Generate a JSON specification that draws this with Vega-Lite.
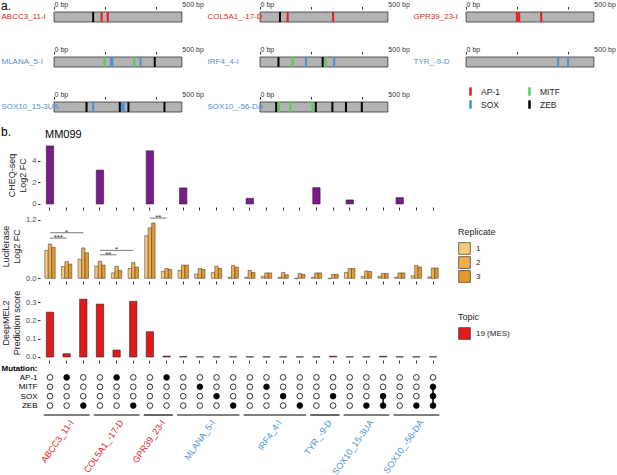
{
  "$schema": "https://vega.github.io/schema/vega-lite/v6.json",
  "padding": {"left": 1, "top": 0, "right": 0, "bottom": 0},
  "columns": 1,
  "align": "none",
  "spacing": 13,
  "resolve": {"scale": {"color": "independent", "fill": "independent"}, "legend": {"color": "independent", "fill": "independent"}},
  "datasets": {
    "bp": [{"p": 0, "lab": "0 bp"}, {"p": 500, "lab": "500 bp"}],
    "motifs": [
      {"name": "ABCC3_11-I", "pos": 153, "motif": "ZEB"},
      {"name": "ABCC3_11-I", "pos": 186, "motif": "AP-1"},
      {"name": "ABCC3_11-I", "pos": 210, "motif": "AP-1"},
      {"name": "COL5A1_-17-D", "pos": 78, "motif": "ZEB"},
      {"name": "COL5A1_-17-D", "pos": 108, "motif": "AP-1"},
      {"name": "COL5A1_-17-D", "pos": 286, "motif": "AP-1"},
      {"name": "GPR39_23-I", "pos": 199, "motif": "AP-1"},
      {"name": "GPR39_23-I", "pos": 208, "motif": "AP-1"},
      {"name": "GPR39_23-I", "pos": 294, "motif": "AP-1"},
      {"name": "MLANA_5-I", "pos": 197, "motif": "MITF"},
      {"name": "MLANA_5-I", "pos": 223, "motif": "SOX"},
      {"name": "MLANA_5-I", "pos": 228, "motif": "SOX"},
      {"name": "MLANA_5-I", "pos": 314, "motif": "MITF"},
      {"name": "MLANA_5-I", "pos": 338, "motif": "SOX"},
      {"name": "MLANA_5-I", "pos": 394, "motif": "ZEB"},
      {"name": "IRF4_4-I", "pos": 72, "motif": "ZEB"},
      {"name": "IRF4_4-I", "pos": 128, "motif": "MITF"},
      {"name": "IRF4_4-I", "pos": 180, "motif": "SOX"},
      {"name": "IRF4_4-I", "pos": 245, "motif": "ZEB"},
      {"name": "IRF4_4-I", "pos": 257, "motif": "MITF"},
      {"name": "IRF4_4-I", "pos": 290, "motif": "SOX"},
      {"name": "TYR_-9-D", "pos": 360, "motif": "SOX"},
      {"name": "TYR_-9-D", "pos": 399, "motif": "SOX"},
      {"name": "SOX10_15-3UA", "pos": 127, "motif": "ZEB"},
      {"name": "SOX10_15-3UA", "pos": 153, "motif": "SOX"},
      {"name": "SOX10_15-3UA", "pos": 257, "motif": "ZEB"},
      {"name": "SOX10_15-3UA", "pos": 266, "motif": "SOX"},
      {"name": "SOX10_15-3UA", "pos": 272, "motif": "SOX"},
      {"name": "SOX10_15-3UA", "pos": 291, "motif": "ZEB"},
      {"name": "SOX10_15-3UA", "pos": 432, "motif": "ZEB"},
      {"name": "SOX10_-56-DA", "pos": 63, "motif": "ZEB"},
      {"name": "SOX10_-56-DA", "pos": 74, "motif": "MITF"},
      {"name": "SOX10_-56-DA", "pos": 119, "motif": "MITF"},
      {"name": "SOX10_-56-DA", "pos": 205, "motif": "MITF"},
      {"name": "SOX10_-56-DA", "pos": 218, "motif": "ZEB"},
      {"name": "SOX10_-56-DA", "pos": 283, "motif": "ZEB"},
      {"name": "SOX10_-56-DA", "pos": 336, "motif": "ZEB"},
      {"name": "SOX10_-56-DA", "pos": 398, "motif": "ZEB"}
    ],
    "cheq": [
      {"col": "c01", "v": 5.35}, {"col": "c04", "v": 3.12}, {"col": "c07", "v": 4.9},
      {"col": "c09", "v": 1.48}, {"col": "c13", "v": 0.52}, {"col": "c17", "v": 1.5},
      {"col": "c19", "v": 0.37}, {"col": "c22", "v": 0.58}
    ],
    "luc": [
      {"col": "c01", "rep": "1", "v": 0.57}, {"col": "c01", "rep": "2", "v": 0.70}, {"col": "c01", "rep": "3", "v": 0.63},
      {"col": "c02", "rep": "1", "v": 0.24}, {"col": "c02", "rep": "2", "v": 0.34}, {"col": "c02", "rep": "3", "v": 0.29},
      {"col": "c03", "rep": "1", "v": 0.39}, {"col": "c03", "rep": "2", "v": 0.62}, {"col": "c03", "rep": "3", "v": 0.52},
      {"col": "c04", "rep": "1", "v": 0.25}, {"col": "c04", "rep": "2", "v": 0.35}, {"col": "c04", "rep": "3", "v": 0.27},
      {"col": "c05", "rep": "1", "v": 0.11}, {"col": "c05", "rep": "2", "v": 0.245}, {"col": "c05", "rep": "3", "v": 0.16},
      {"col": "c06", "rep": "1", "v": 0.20}, {"col": "c06", "rep": "2", "v": 0.32}, {"col": "c06", "rep": "3", "v": 0.23},
      {"col": "c07", "rep": "1", "v": 0.87}, {"col": "c07", "rep": "2", "v": 1.03}, {"col": "c07", "rep": "3", "v": 1.13},
      {"col": "c08", "rep": "1", "v": 0.14}, {"col": "c08", "rep": "2", "v": 0.20}, {"col": "c08", "rep": "3", "v": 0.18},
      {"col": "c09", "rep": "1", "v": 0.16}, {"col": "c09", "rep": "2", "v": 0.27}, {"col": "c09", "rep": "3", "v": 0.27},
      {"col": "c10", "rep": "1", "v": 0.09}, {"col": "c10", "rep": "2", "v": 0.20}, {"col": "c10", "rep": "3", "v": 0.18},
      {"col": "c11", "rep": "1", "v": 0.12}, {"col": "c11", "rep": "2", "v": 0.245}, {"col": "c11", "rep": "3", "v": 0.20},
      {"col": "c12", "rep": "1", "v": 0.02}, {"col": "c12", "rep": "2", "v": 0.26}, {"col": "c12", "rep": "3", "v": 0.23},
      {"col": "c13", "rep": "1", "v": 0.02}, {"col": "c13", "rep": "2", "v": 0.16}, {"col": "c13", "rep": "3", "v": 0.12},
      {"col": "c14", "rep": "1", "v": 0.04}, {"col": "c14", "rep": "2", "v": 0.11}, {"col": "c14", "rep": "3", "v": 0.11},
      {"col": "c15", "rep": "1", "v": 0.02}, {"col": "c15", "rep": "2", "v": 0.12}, {"col": "c15", "rep": "3", "v": 0.07},
      {"col": "c16", "rep": "1", "v": -0.01}, {"col": "c16", "rep": "2", "v": 0.10}, {"col": "c16", "rep": "3", "v": 0.08},
      {"col": "c17", "rep": "1", "v": 0.02}, {"col": "c17", "rep": "2", "v": 0.11}, {"col": "c17", "rep": "3", "v": 0.11},
      {"col": "c18", "rep": "1", "v": -0.01}, {"col": "c18", "rep": "2", "v": 0.08}, {"col": "c18", "rep": "3", "v": 0.08},
      {"col": "c19", "rep": "1", "v": 0.12}, {"col": "c19", "rep": "2", "v": 0.20}, {"col": "c19", "rep": "3", "v": 0.20},
      {"col": "c20", "rep": "1", "v": 0.04}, {"col": "c20", "rep": "2", "v": 0.15}, {"col": "c20", "rep": "3", "v": 0.14},
      {"col": "c21", "rep": "1", "v": 0.04}, {"col": "c21", "rep": "2", "v": 0.10}, {"col": "c21", "rep": "3", "v": 0.10},
      {"col": "c22", "rep": "1", "v": 0.02}, {"col": "c22", "rep": "2", "v": 0.11}, {"col": "c22", "rep": "3", "v": 0.11},
      {"col": "c23", "rep": "1", "v": 0.05}, {"col": "c23", "rep": "2", "v": 0.26}, {"col": "c23", "rep": "3", "v": 0.23},
      {"col": "c24", "rep": "1", "v": 0.03}, {"col": "c24", "rep": "2", "v": 0.21}, {"col": "c24", "rep": "3", "v": 0.21}
    ],
    "sig": [
      {"s": "c01", "e": "c03", "mid": "c02", "half": false, "y": 0.93, "lab": "*"},
      {"s": "c01", "e": "c02", "mid": "c01", "half": true, "y": 0.82, "lab": "***"},
      {"s": "c04", "e": "c06", "mid": "c05", "half": false, "y": 0.57, "lab": "*"},
      {"s": "c04", "e": "c05", "mid": "c04", "half": true, "y": 0.48, "lab": "**"},
      {"s": "c07", "e": "c08", "mid": "c07", "half": true, "y": 1.23, "lab": "**"}
    ],
    "deep": [
      {"col": "c01", "v": 0.245, "topic": "19 (MES)"}, {"col": "c02", "v": 0.018, "topic": "19 (MES)"},
      {"col": "c03", "v": 0.316, "topic": "19 (MES)"}, {"col": "c04", "v": 0.289, "topic": "19 (MES)"},
      {"col": "c05", "v": 0.038, "topic": "19 (MES)"}, {"col": "c06", "v": 0.304, "topic": "19 (MES)"},
      {"col": "c07", "v": 0.138, "topic": "19 (MES)"}, {"col": "c08", "v": 0.005, "topic": "19 (MES)"},
      {"col": "c09", "v": 0.002, "topic": "19 (MES)"}, {"col": "c10", "v": 0.001, "topic": "19 (MES)"},
      {"col": "c11", "v": 0.001, "topic": "19 (MES)"}, {"col": "c12", "v": 0.001, "topic": "19 (MES)"},
      {"col": "c13", "v": 0.001, "topic": "19 (MES)"}, {"col": "c14", "v": 0.001, "topic": "19 (MES)"},
      {"col": "c15", "v": 0.001, "topic": "19 (MES)"}, {"col": "c16", "v": 0.001, "topic": "19 (MES)"},
      {"col": "c17", "v": 0.001, "topic": "19 (MES)"}, {"col": "c18", "v": 0.004, "topic": "19 (MES)"},
      {"col": "c19", "v": 0.001, "topic": "19 (MES)"}, {"col": "c20", "v": 0.001, "topic": "19 (MES)"},
      {"col": "c21", "v": 0.004, "topic": "19 (MES)"}, {"col": "c22", "v": 0.001, "topic": "19 (MES)"},
      {"col": "c23", "v": 0.001, "topic": "19 (MES)"}, {"col": "c24", "v": 0.001, "topic": "19 (MES)"}
    ],
    "mut": [
      {"col": "c01", "AP-1": 0, "MITF": 0, "SOX": 0, "ZEB": 0},
      {"col": "c02", "AP-1": 1, "MITF": 0, "SOX": 0, "ZEB": 0},
      {"col": "c03", "AP-1": 0, "MITF": 0, "SOX": 0, "ZEB": 1},
      {"col": "c04", "AP-1": 0, "MITF": 0, "SOX": 0, "ZEB": 0},
      {"col": "c05", "AP-1": 1, "MITF": 0, "SOX": 0, "ZEB": 0},
      {"col": "c06", "AP-1": 0, "MITF": 0, "SOX": 0, "ZEB": 1},
      {"col": "c07", "AP-1": 0, "MITF": 0, "SOX": 0, "ZEB": 0},
      {"col": "c08", "AP-1": 1, "MITF": 0, "SOX": 0, "ZEB": 0},
      {"col": "c09", "AP-1": 0, "MITF": 0, "SOX": 0, "ZEB": 0},
      {"col": "c10", "AP-1": 0, "MITF": 1, "SOX": 0, "ZEB": 0},
      {"col": "c11", "AP-1": 0, "MITF": 0, "SOX": 1, "ZEB": 0},
      {"col": "c12", "AP-1": 0, "MITF": 0, "SOX": 0, "ZEB": 1},
      {"col": "c13", "AP-1": 0, "MITF": 0, "SOX": 0, "ZEB": 0},
      {"col": "c14", "AP-1": 0, "MITF": 1, "SOX": 0, "ZEB": 0},
      {"col": "c15", "AP-1": 0, "MITF": 0, "SOX": 1, "ZEB": 0},
      {"col": "c16", "AP-1": 0, "MITF": 0, "SOX": 0, "ZEB": 1},
      {"col": "c17", "AP-1": 0, "MITF": 0, "SOX": 0, "ZEB": 0},
      {"col": "c18", "AP-1": 0, "MITF": 0, "SOX": 1, "ZEB": 0},
      {"col": "c19", "AP-1": 0, "MITF": 0, "SOX": 0, "ZEB": 0},
      {"col": "c20", "AP-1": 0, "MITF": 0, "SOX": 0, "ZEB": 1},
      {"col": "c21", "AP-1": 0, "MITF": 0, "SOX": 1, "ZEB": 1},
      {"col": "c22", "AP-1": 0, "MITF": 0, "SOX": 0, "ZEB": 0},
      {"col": "c23", "AP-1": 0, "MITF": 0, "SOX": 0, "ZEB": 1},
      {"col": "c24", "AP-1": 0, "MITF": 1, "SOX": 1, "ZEB": 1}
    ],
    "links": [
      {"col": "c21", "a": "SOX", "b": "ZEB"},
      {"col": "c24", "a": "MITF", "b": "ZEB"}
    ],
    "groups": [
      {"grp": "ABCC3_11-I", "s": "c01", "e": "c03", "mid": "c02", "half": false, "cls": "red"},
      {"grp": "COL5A1_-17-D", "s": "c04", "e": "c06", "mid": "c05", "half": false, "cls": "red"},
      {"grp": "GPR39_23-I", "s": "c07", "e": "c08", "mid": "c07", "half": true, "cls": "red"},
      {"grp": "MLANA_5-I", "s": "c09", "e": "c12", "mid": "c10", "half": true, "cls": "blue"},
      {"grp": "IRF4_4-I", "s": "c13", "e": "c16", "mid": "c14", "half": true, "cls": "blue"},
      {"grp": "TYR_-9-D", "s": "c17", "e": "c18", "mid": "c17", "half": true, "cls": "blue"},
      {"grp": "SOX10_15-3UA", "s": "c19", "e": "c21", "mid": "c20", "half": false, "cls": "blue"},
      {"grp": "SOX10_-56-DA", "s": "c22", "e": "c24", "mid": "c23", "half": false, "cls": "blue"}
    ]
  },
  "concat": [
    {
      "data": {"name": "motifs"},
      "title": {"text": "a.", "anchor": "start", "frame": "bounds", "offset": -12, "fontSize": 12},
      "columns": 3,
      "bounds": "flush",
      "spacing": {"column": 64, "row": 35},
      "concat": [
        {"width": 142, "height": 10, "layer": [
          {"transform": [{"filter": "datum.name == 'ABCC3_11-I'"}, {"aggregate": [{"op": "count", "as": "n"}], "groupby": ["name"]}], "mark": {"type": "rect", "fill": "#b3b3b3", "stroke": "#333", "strokeWidth": 0.8},
           "encoding": {"x": {"datum": 0, "type": "quantitative", "scale": {"domain": [-55, 500.5], "nice": false, "zero": false}, "axis": {"orient": "top", "values": [0, 100, 200, 300, 400, 500], "labels": false, "tickSize": 2.5, "offset": 3, "title": null}}, "x2": {"datum": 500},
             "y": {"field": "name", "type": "nominal", "scale": {"paddingInner": 0, "paddingOuter": 0}, "axis": {"title": null, "ticks": false, "tickSize": 0, "labelAlign": "left", "labelPadding": 39, "labelFontSize": 8, "labelColor": "#e2232a"}}}},
          {"transform": [{"filter": "datum.name == 'ABCC3_11-I'"}], "mark": {"type": "tick", "thickness": 2, "size": 10, "opacity": 1}, "encoding": {"x": {"field": "pos", "type": "quantitative"}, "y": {"field": "name", "type": "nominal"}, "color": {"field": "motif", "type": "nominal"}}},
          {"data": {"name": "bp"}, "mark": {"type": "text", "align": "left", "baseline": "bottom", "dy": -9, "dx": 0.5, "fontSize": 7, "color": "#333"}, "encoding": {"x": {"field": "p", "type": "quantitative"}, "text": {"field": "lab"}}}
        ]},
        {"width": 142, "height": 10, "layer": [
          {"transform": [{"filter": "datum.name == 'COL5A1_-17-D'"}, {"aggregate": [{"op": "count", "as": "n"}], "groupby": ["name"]}], "mark": {"type": "rect", "fill": "#b3b3b3", "stroke": "#333", "strokeWidth": 0.8},
           "encoding": {"x": {"datum": 0, "type": "quantitative", "scale": {"domain": [-55, 500.5], "nice": false, "zero": false}, "axis": {"orient": "top", "values": [0, 100, 200, 300, 400, 500], "labels": false, "tickSize": 2.5, "offset": 3, "title": null}}, "x2": {"datum": 500},
             "y": {"field": "name", "type": "nominal", "scale": {"paddingInner": 0, "paddingOuter": 0}, "axis": {"title": null, "ticks": false, "tickSize": 0, "labelAlign": "left", "labelPadding": 39, "labelFontSize": 8, "labelColor": "#e2232a"}}}},
          {"transform": [{"filter": "datum.name == 'COL5A1_-17-D'"}], "mark": {"type": "tick", "thickness": 2, "size": 10, "opacity": 1}, "encoding": {"x": {"field": "pos", "type": "quantitative"}, "y": {"field": "name", "type": "nominal"}, "color": {"field": "motif", "type": "nominal"}}},
          {"data": {"name": "bp"}, "mark": {"type": "text", "align": "left", "baseline": "bottom", "dy": -9, "dx": 0.5, "fontSize": 7, "color": "#333"}, "encoding": {"x": {"field": "p", "type": "quantitative"}, "text": {"field": "lab"}}}
        ]},
        {"width": 142, "height": 10, "layer": [
          {"transform": [{"filter": "datum.name == 'GPR39_23-I'"}, {"aggregate": [{"op": "count", "as": "n"}], "groupby": ["name"]}], "mark": {"type": "rect", "fill": "#b3b3b3", "stroke": "#333", "strokeWidth": 0.8},
           "encoding": {"x": {"datum": 0, "type": "quantitative", "scale": {"domain": [-55, 500.5], "nice": false, "zero": false}, "axis": {"orient": "top", "values": [0, 100, 200, 300, 400, 500], "labels": false, "tickSize": 2.5, "offset": 3, "title": null}}, "x2": {"datum": 500},
             "y": {"field": "name", "type": "nominal", "scale": {"paddingInner": 0, "paddingOuter": 0}, "axis": {"title": null, "ticks": false, "tickSize": 0, "labelAlign": "left", "labelPadding": 39, "labelFontSize": 8, "labelColor": "#e2232a"}}}},
          {"transform": [{"filter": "datum.name == 'GPR39_23-I'"}], "mark": {"type": "tick", "thickness": 2, "size": 10, "opacity": 1}, "encoding": {"x": {"field": "pos", "type": "quantitative"}, "y": {"field": "name", "type": "nominal"}, "color": {"field": "motif", "type": "nominal"}}},
          {"data": {"name": "bp"}, "mark": {"type": "text", "align": "left", "baseline": "bottom", "dy": -9, "dx": 0.5, "fontSize": 7, "color": "#333"}, "encoding": {"x": {"field": "p", "type": "quantitative"}, "text": {"field": "lab"}}}
        ]},
        {"width": 142, "height": 10, "layer": [
          {"transform": [{"filter": "datum.name == 'MLANA_5-I'"}, {"aggregate": [{"op": "count", "as": "n"}], "groupby": ["name"]}], "mark": {"type": "rect", "fill": "#b3b3b3", "stroke": "#333", "strokeWidth": 0.8},
           "encoding": {"x": {"datum": 0, "type": "quantitative", "scale": {"domain": [-55, 500.5], "nice": false, "zero": false}, "axis": {"orient": "top", "values": [0, 100, 200, 300, 400, 500], "labels": false, "tickSize": 2.5, "offset": 3, "title": null}}, "x2": {"datum": 500},
             "y": {"field": "name", "type": "nominal", "scale": {"paddingInner": 0, "paddingOuter": 0}, "axis": {"title": null, "ticks": false, "tickSize": 0, "labelAlign": "left", "labelPadding": 39, "labelFontSize": 8, "labelColor": "#4f93cf"}}}},
          {"transform": [{"filter": "datum.name == 'MLANA_5-I'"}], "mark": {"type": "tick", "thickness": 2, "size": 10, "opacity": 1}, "encoding": {"x": {"field": "pos", "type": "quantitative"}, "y": {"field": "name", "type": "nominal"}, "color": {"field": "motif", "type": "nominal"}}},
          {"data": {"name": "bp"}, "mark": {"type": "text", "align": "left", "baseline": "bottom", "dy": -9, "dx": 0.5, "fontSize": 7, "color": "#333"}, "encoding": {"x": {"field": "p", "type": "quantitative"}, "text": {"field": "lab"}}}
        ]},
        {"width": 142, "height": 10, "layer": [
          {"transform": [{"filter": "datum.name == 'IRF4_4-I'"}, {"aggregate": [{"op": "count", "as": "n"}], "groupby": ["name"]}], "mark": {"type": "rect", "fill": "#b3b3b3", "stroke": "#333", "strokeWidth": 0.8},
           "encoding": {"x": {"datum": 0, "type": "quantitative", "scale": {"domain": [-55, 500.5], "nice": false, "zero": false}, "axis": {"orient": "top", "values": [0, 100, 200, 300, 400, 500], "labels": false, "tickSize": 2.5, "offset": 3, "title": null}}, "x2": {"datum": 500},
             "y": {"field": "name", "type": "nominal", "scale": {"paddingInner": 0, "paddingOuter": 0}, "axis": {"title": null, "ticks": false, "tickSize": 0, "labelAlign": "left", "labelPadding": 39, "labelFontSize": 8, "labelColor": "#4f93cf"}}}},
          {"transform": [{"filter": "datum.name == 'IRF4_4-I'"}], "mark": {"type": "tick", "thickness": 2, "size": 10, "opacity": 1}, "encoding": {"x": {"field": "pos", "type": "quantitative"}, "y": {"field": "name", "type": "nominal"}, "color": {"field": "motif", "type": "nominal"}}},
          {"data": {"name": "bp"}, "mark": {"type": "text", "align": "left", "baseline": "bottom", "dy": -9, "dx": 0.5, "fontSize": 7, "color": "#333"}, "encoding": {"x": {"field": "p", "type": "quantitative"}, "text": {"field": "lab"}}}
        ]},
        {"width": 142, "height": 10, "layer": [
          {"transform": [{"filter": "datum.name == 'TYR_-9-D'"}, {"aggregate": [{"op": "count", "as": "n"}], "groupby": ["name"]}], "mark": {"type": "rect", "fill": "#b3b3b3", "stroke": "#333", "strokeWidth": 0.8},
           "encoding": {"x": {"datum": 0, "type": "quantitative", "scale": {"domain": [-55, 500.5], "nice": false, "zero": false}, "axis": {"orient": "top", "values": [0, 100, 200, 300, 400, 500], "labels": false, "tickSize": 2.5, "offset": 3, "title": null}}, "x2": {"datum": 500},
             "y": {"field": "name", "type": "nominal", "scale": {"paddingInner": 0, "paddingOuter": 0}, "axis": {"title": null, "ticks": false, "tickSize": 0, "labelAlign": "left", "labelPadding": 39, "labelFontSize": 8, "labelColor": "#4f93cf"}}}},
          {"transform": [{"filter": "datum.name == 'TYR_-9-D'"}], "mark": {"type": "tick", "thickness": 2, "size": 10, "opacity": 1}, "encoding": {"x": {"field": "pos", "type": "quantitative"}, "y": {"field": "name", "type": "nominal"}, "color": {"field": "motif", "type": "nominal"}}},
          {"data": {"name": "bp"}, "mark": {"type": "text", "align": "left", "baseline": "bottom", "dy": -9, "dx": 0.5, "fontSize": 7, "color": "#333"}, "encoding": {"x": {"field": "p", "type": "quantitative"}, "text": {"field": "lab"}}}
        ]},
        {"width": 142, "height": 10, "layer": [
          {"transform": [{"filter": "datum.name == 'SOX10_15-3UA'"}, {"aggregate": [{"op": "count", "as": "n"}], "groupby": ["name"]}], "mark": {"type": "rect", "fill": "#b3b3b3", "stroke": "#333", "strokeWidth": 0.8},
           "encoding": {"x": {"datum": 0, "type": "quantitative", "scale": {"domain": [-55, 500.5], "nice": false, "zero": false}, "axis": {"orient": "top", "values": [0, 100, 200, 300, 400, 500], "labels": false, "tickSize": 2.5, "offset": 3, "title": null}}, "x2": {"datum": 500},
             "y": {"field": "name", "type": "nominal", "scale": {"paddingInner": 0, "paddingOuter": 0}, "axis": {"title": null, "ticks": false, "tickSize": 0, "labelAlign": "left", "labelPadding": 39, "labelFontSize": 8, "labelColor": "#4f93cf"}}}},
          {"transform": [{"filter": "datum.name == 'SOX10_15-3UA'"}], "mark": {"type": "tick", "thickness": 2, "size": 10, "opacity": 1}, "encoding": {"x": {"field": "pos", "type": "quantitative"}, "y": {"field": "name", "type": "nominal"}, "color": {"field": "motif", "type": "nominal"}}},
          {"data": {"name": "bp"}, "mark": {"type": "text", "align": "left", "baseline": "bottom", "dy": -9, "dx": 0.5, "fontSize": 7, "color": "#333"}, "encoding": {"x": {"field": "p", "type": "quantitative"}, "text": {"field": "lab"}}}
        ]},
        {"width": 142, "height": 10, "layer": [
          {"transform": [{"filter": "datum.name == 'SOX10_-56-DA'"}, {"aggregate": [{"op": "count", "as": "n"}], "groupby": ["name"]}], "mark": {"type": "rect", "fill": "#b3b3b3", "stroke": "#333", "strokeWidth": 0.8},
           "encoding": {"x": {"datum": 0, "type": "quantitative", "scale": {"domain": [-55, 500.5], "nice": false, "zero": false}, "axis": {"orient": "top", "values": [0, 100, 200, 300, 400, 500], "labels": false, "tickSize": 2.5, "offset": 3, "title": null}}, "x2": {"datum": 500},
             "y": {"field": "name", "type": "nominal", "scale": {"paddingInner": 0, "paddingOuter": 0}, "axis": {"title": null, "ticks": false, "tickSize": 0, "labelAlign": "left", "labelPadding": 39, "labelFontSize": 8, "labelColor": "#4f93cf"}}}},
          {"transform": [{"filter": "datum.name == 'SOX10_-56-DA'"}], "mark": {"type": "tick", "thickness": 2, "size": 10, "opacity": 1}, "encoding": {"x": {"field": "pos", "type": "quantitative"}, "y": {"field": "name", "type": "nominal"},
            "color": {"field": "motif", "type": "nominal", "scale": {"domain": ["AP-1", "SOX", "MITF", "ZEB"], "range": ["#e41a1c", "#4a8fd1", "#4fd14f", "#000000"]},
              "legend": {"title": null, "orient": "none", "legendX": 426, "legendY": 75, "columns": 2, "columnPadding": 25, "rowPadding": 4, "symbolType": "M-0.3,-1H0.3V1H-0.3Z", "symbolSize": 70, "symbolStrokeWidth": 0, "symbolOpacity": 1, "labelFontSize": 8.5, "labelColor": "#222", "labelOffset": 6}}}},
          {"data": {"name": "bp"}, "mark": {"type": "text", "align": "left", "baseline": "bottom", "dy": -9, "dx": 0.5, "fontSize": 7, "color": "#333"}, "encoding": {"x": {"field": "p", "type": "quantitative"}, "text": {"field": "lab"}}}
        ]}
      ]
    },
    {
      "title": {"text": "b.", "anchor": "start", "frame": "bounds", "offset": -10, "fontSize": 12},
      "spacing": 0,
      "resolve": {"scale": {"color": "independent", "fill": "independent"}, "legend": {"color": "independent", "fill": "independent"}},
      "vconcat": [
        {
          "data": {"name": "cheq"},
          "width": 403,
          "height": 64,
          "title": {"text": "MM099", "anchor": "start", "frame": "group", "fontSize": 11, "dx": 5, "offset": 3},
          "mark": {"type": "bar", "fill": "#7b1a8f", "stroke": "#222", "strokeWidth": 0.6, "width": {"band": 0.44}},
          "encoding": {
            "x": {"field": "col", "type": "nominal", "scale": {"domain": ["c01","c02","c03","c04","c05","c06","c07","c08","c09","c10","c11","c12","c13","c14","c15","c16","c17","c18","c19","c20","c21","c22","c23","c24"], "paddingInner": 0, "paddingOuter": 0.1}, "axis": {"labels": false, "title": null, "tickSize": 3}},
            "y": {"field": "v", "type": "quantitative", "scale": {"domain": [-0.28, 5.62], "nice": false}, "axis": {"values": [0, 2, 4], "title": ["CHEQ-seq", "Log2 FC"]}}
          }
        },
        {
          "width": 403,
          "height": 70,
          "layer": [
            {
              "data": {"name": "luc"},
              "mark": {"type": "bar", "stroke": "#333", "strokeWidth": 0.5},
              "encoding": {
                "x": {"field": "col", "type": "nominal", "scale": {"domain": ["c01","c02","c03","c04","c05","c06","c07","c08","c09","c10","c11","c12","c13","c14","c15","c16","c17","c18","c19","c20","c21","c22","c23","c24"], "paddingInner": 0, "paddingOuter": 0.1}, "axis": {"labels": false, "title": null, "tickSize": 3}},
                "xOffset": {"field": "rep", "type": "nominal", "scale": {"paddingOuter": 0.9, "paddingInner": 0}},
                "y": {"field": "v", "type": "quantitative", "scale": {"domain": [-0.055, 1.374], "nice": false}, "axis": {"values": [0, 0.3, 0.6, 0.9, 1.2], "format": ".1f", "title": ["Luciferase", "Log2 FC"]}},
                "fill": {"field": "rep", "type": "nominal", "scale": {"domain": ["1", "2", "3"], "range": ["#f7c979", "#f0ad4e", "#e39a2b"]},
                  "legend": {"title": "Replicate", "orient": "none", "legendX": 418, "legendY": 17, "symbolType": "square", "symbolSize": 137, "symbolStrokeColor": "#333", "symbolStrokeWidth": 0.7, "rowPadding": -4, "labelOffset": 5}}
              }
            },
            {
              "data": {"name": "sig"},
              "mark": {"type": "rule", "color": "#555", "strokeWidth": 0.8},
              "encoding": {
                "x": {"field": "s", "type": "nominal", "bandPosition": 0.5},
                "x2": {"field": "e", "bandPosition": 0.5},
                "y": {"field": "y", "type": "quantitative"}
              }
            },
            {
              "data": {"name": "sig"},
              "transform": [{"filter": "!datum.half"}],
              "mark": {"type": "text", "fontSize": 8, "baseline": "middle", "color": "#333"},
              "encoding": {
                "x": {"field": "mid", "type": "nominal"},
                "y": {"field": "y", "type": "quantitative"},
                "text": {"field": "lab"}
              }
            },
            {
              "data": {"name": "sig"},
              "transform": [{"filter": "datum.half"}],
              "mark": {"type": "text", "fontSize": 8, "baseline": "middle", "color": "#333"},
              "encoding": {
                "x": {"field": "mid", "type": "nominal", "bandPosition": 1},
                "y": {"field": "y", "type": "quantitative"},
                "text": {"field": "lab"}
              }
            }
          ]
        },
        {
          "data": {"name": "deep"},
          "width": 403,
          "height": 75,
          "mark": {"type": "bar", "stroke": "#222", "strokeWidth": 0.6, "width": {"band": 0.44}},
          "encoding": {
            "x": {"field": "col", "type": "nominal", "scale": {"domain": ["c01","c02","c03","c04","c05","c06","c07","c08","c09","c10","c11","c12","c13","c14","c15","c16","c17","c18","c19","c20","c21","c22","c23","c24"], "paddingInner": 0, "paddingOuter": 0.1}, "axis": {"labels": false, "title": null, "tickSize": 3}},
            "y": {"field": "v", "type": "quantitative", "scale": {"domain": [-0.0164, 0.3934], "nice": false}, "axis": {"values": [0, 0.1, 0.2, 0.3], "format": ".1f", "title": ["DeepMEL2", "Prediction score"]}},
            "fill": {"field": "topic", "type": "nominal", "scale": {"range": ["#e31a1c"]},
              "legend": {"title": "Topic", "orient": "none", "legendX": 418, "legendY": 28, "symbolType": "square", "symbolSize": 137, "symbolStrokeColor": "#333", "symbolStrokeWidth": 0.7, "labelOffset": 5}}
          }
        },
        {
          "width": 403,
          "height": 47,
          "layer": [
            {
              "data": {"name": "links"},
              "mark": {"type": "rule", "color": "#000", "strokeWidth": 1.5},
              "encoding": {
                "x": {"field": "col", "type": "nominal", "scale": {"type": "band", "domain": ["c01","c02","c03","c04","c05","c06","c07","c08","c09","c10","c11","c12","c13","c14","c15","c16","c17","c18","c19","c20","c21","c22","c23","c24"], "paddingInner": 0, "paddingOuter": 0.1}, "axis": null},
                "y": {"field": "a", "type": "nominal", "scale": {"type": "point", "padding": 0, "domain": ["Mutation:", "AP-1", "MITF", "SOX", "ZEB", "grp"]},
                  "axis": {"title": null, "ticks": false, "labelPadding": 3, "labelFontSize": 8, "labelColor": "#000", "labelExpr": "datum.value == 'grp' ? '' : datum.value", "labelFontWeight": {"condition": {"test": "datum.value == 'Mutation:'", "value": "bold"}, "value": "normal"}}},
                "y2": {"field": "b"}
              }
            },
            {
              "data": {"name": "mut"},
              "transform": [{"fold": ["AP-1", "MITF", "SOX", "ZEB"], "as": ["motif", "m"]}],
              "mark": {"type": "point", "filled": true, "stroke": "#000", "strokeWidth": 0.8, "size": 32, "opacity": 1},
              "encoding": {
                "x": {"field": "col", "type": "nominal"},
                "y": {"field": "motif", "type": "nominal"},
                "fill": {"field": "m", "type": "nominal", "scale": {"domain": [0, 1], "range": ["#ffffff", "#000000"]}, "legend": null}
              }
            },
            {
              "data": {"name": "groups"},
              "mark": {"type": "rule", "color": "#000", "strokeWidth": 1.2},
              "encoding": {
                "x": {"field": "s", "type": "nominal", "bandPosition": 0.13},
                "x2": {"field": "e", "bandPosition": 0.88},
                "y": {"datum": "grp", "type": "nominal"}
              }
            },
            {
              "data": {"name": "groups"},
              "transform": [{"filter": "!datum.half"}],
              "mark": {"type": "text", "angle": -55, "align": "right", "baseline": "middle", "fontSize": 9, "dx": -2, "dy": 7.5},
              "encoding": {
                "x": {"field": "mid", "type": "nominal"},
                "y": {"datum": "grp", "type": "nominal"},
                "text": {"field": "grp"},
                "color": {"field": "cls", "type": "nominal", "scale": {"domain": ["red", "blue"], "range": ["#e2232a", "#4f93cf"]}, "legend": null}
              }
            },
            {
              "data": {"name": "groups"},
              "transform": [{"filter": "datum.half"}],
              "mark": {"type": "text", "angle": -55, "align": "right", "baseline": "middle", "fontSize": 9, "dx": -2, "dy": 7.5},
              "encoding": {
                "x": {"field": "mid", "type": "nominal", "bandPosition": 1},
                "y": {"datum": "grp", "type": "nominal"},
                "text": {"field": "grp"},
                "color": {"field": "cls", "type": "nominal", "legend": null}
              }
            }
          ]
        }
      ]
    }
  ],
  "config": {
    "font": "Liberation Sans",
    "view": {"stroke": null},
    "axis": {"grid": false, "domain": false, "tickColor": "#333", "tickSize": 2.5, "labelColor": "#4d4d4d", "labelFontSize": 7.5, "labelPadding": 1.5, "titleFontSize": 9, "titleFontWeight": "normal", "titleColor": "#222"},
    "legend": {"labelFontSize": 8, "titleFontSize": 9, "titleFontWeight": "normal", "labelColor": "#222", "titleColor": "#222"},
    "title": {"fontWeight": "normal", "color": "#000"}
  }
}
